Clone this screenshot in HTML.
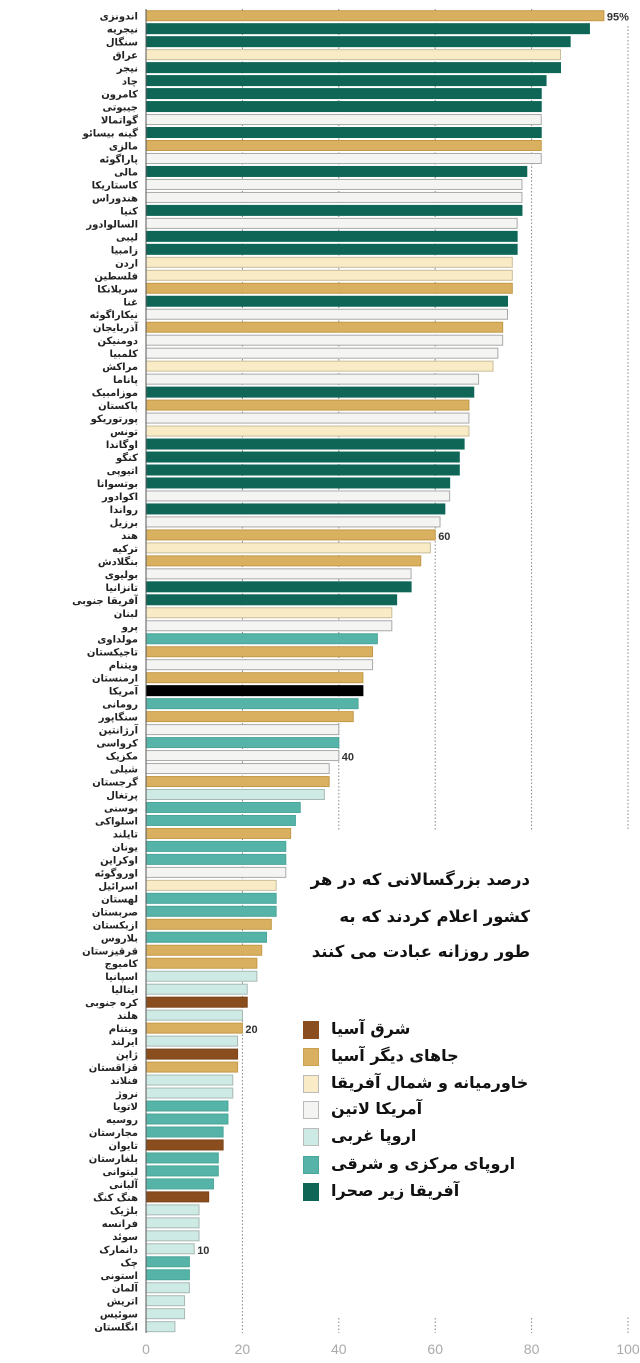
<!DOCTYPE html>
<html lang="fa">
<head>
<meta charset="utf-8">
<style>
  html, body { margin:0; padding:0; background:#fff; }
  body { width:640px; height:1363px; position:relative; overflow:hidden;
         font-family:"Liberation Sans","DejaVu Sans",sans-serif; }
  #chart { position:absolute; left:0; top:0; }
  #panel { position:absolute; left:292px; top:830px; width:348px; height:486px; background:#fff; }
  .title { position:absolute; left:290px; width:240px; font-weight:bold; font-size:16.5px; color:#111;
           direction:rtl; text-align:right; white-space:nowrap;
           font-family:"DejaVu Sans",sans-serif; line-height:24px; }
  .leg { position:absolute; left:303px; height:27px; }
  .sw { position:absolute; left:0; top:0; width:16px; height:18px; box-sizing:border-box; border:1px solid #bbb; }
  .lt { position:absolute; left:28px; top:-2px; font-weight:bold; font-size:16px; color:#111;
        direction:rtl; white-space:nowrap; font-family:"DejaVu Sans",sans-serif; }
</style>
</head>
<body>
<svg id="chart" width="640" height="1363" xmlns="http://www.w3.org/2000/svg"></svg>
<div id="panel"></div>
<div class="title" style="top:868px;">درصد بزرگسالانی که در هر</div>
<div class="title" style="top:905px;">کشور اعلام کردند که به</div>
<div class="title" style="top:940px;">طور روزانه عبادت می کنند</div>

<div class="leg" style="top:1021px;"><div class="sw" style="background:#8a4e1e;border-color:#8a4e1e"></div><div class="lt">شرق آسیا</div></div>
<div class="leg" style="top:1048px;"><div class="sw" style="background:#d8b060;border-color:#c9a150"></div><div class="lt">جاهای دیگر آسیا</div></div>
<div class="leg" style="top:1075px;"><div class="sw" style="background:#f8ebc6"></div><div class="lt">خاورمیانه و شمال آفریقا</div></div>
<div class="leg" style="top:1101px;"><div class="sw" style="background:#f4f5f3"></div><div class="lt">آمریکا لاتین</div></div>
<div class="leg" style="top:1128px;"><div class="sw" style="background:#cdeae4"></div><div class="lt">اروپا غربی</div></div>
<div class="leg" style="top:1156px;"><div class="sw" style="background:#56b3a7;border-color:#4aa69a"></div><div class="lt">اروپای مرکزی و شرقی</div></div>
<div class="leg" style="top:1183px;"><div class="sw" style="background:#0f6657;border-color:#0f6657"></div><div class="lt">آفریقا زیر صحرا</div></div>

<script>
const countries = ["اندونزی","نیجریه","سنگال","عراق","نیجر","چاد","کامرون","جیبوتی","گواتمالا","گینه بیسائو","مالزی","پاراگوئه","مالی","کاستاریکا","هندوراس","کنیا","السالوادور","لیبی","زامبیا","اردن","فلسطین","سریلانکا","غنا","نیکاراگوئه","آذربایجان","دومنیکن","کلمبیا","مراکش","پاناما","موزامبیک","پاکستان","پورتوریکو","تونس","اوگاندا","کنگو","اتیوپی","بوتسوانا","اکوادور","رواندا","برزیل","هند","ترکیه","بنگلادش","بولیوی","تانزانیا","آفریقا جنوبی","لبنان","پرو","مولداوی","تاجیکستان","ویتنام","ارمنستان","آمریکا","رومانی","سنگاپور","آرژانتین","کرواسی","مکزیک","شیلی","گرجستان","پرتغال","بوسنی","اسلواکی","تایلند","یونان","اوکراین","اوروگوئه","اسرائیل","لهستان","صربستان","ازبکستان","بلاروس","قرقیزستان","کامبوج","اسپانیا","ایتالیا","کره جنوبی","هلند","ویتنام","ایرلند","ژاپن","قزاقستان","فنلاند","نروژ","لاتویا","روسیه","مجارستان","تایوان","بلغارستان","لیتوانی","آلبانی","هنگ کنگ","بلژیک","فرانسه","سوئد","دانمارک","چک","استونی","آلمان","اتریش","سوئیس","انگلستان"];
const values = [95,92,88,86,86,83,82,82,82,82,82,82,79,78,78,78,77,77,77,76,76,76,75,75,74,74,73,72,69,68,67,67,67,66,65,65,63,63,62,61,60,59,57,55,55,52,51,51,48,47,47,45,45,44,43,40,40,40,38,38,37,32,31,30,29,29,29,27,27,27,26,25,24,23,23,21,21,20,20,19,19,19,18,18,17,17,16,16,15,15,14,13,11,11,11,10,9,9,9,8,8,6];
const regions = ["A","S","S","M","S","S","S","S","L","S","A","L","S","L","L","S","L","S","S","M","M","A","S","L","A","L","L","M","L","S","A","L","M","S","S","S","S","L","S","L","A","M","A","L","S","S","M","L","C","A","L","A","U","C","A","L","C","L","L","A","W","C","C","A","C","C","L","M","C","C","A","C","A","A","W","W","E","W","A","W","E","A","W","W","C","C","C","E","C","C","C","E","W","W","W","W","C","C","W","W","W","W"];
const valueLabels = {0:"95%",40:"60",57:"40",63:"30",78:"20",95:"10"};
const ticks = [0,20,40,60,80,100];

const fills = {E:"#8a4e1e",A:"#d8b060",M:"#f8ebc6",L:"#f4f5f3",W:"#cdeae4",C:"#56b3a7",S:"#0f6657",U:"#000000"};
const strokes = {E:"#7a4318",A:"#c49a48",M:"#c9bd9a",L:"#a9a9a9",W:"#a8b8b4",C:"#4aa69a",S:"#0f6657",U:"#000000"};

const NS = "http://www.w3.org/2000/svg";
const svg = document.getElementById('chart');
const X0 = 146, SCALE = 4.82, Y0 = 15.7, STEP = 12.98, BH = 10;
const xs = v => X0 + v * SCALE;
const ys = i => Y0 + i * STEP;

function mk(tag, attrs) {
  const e = document.createElementNS(NS, tag);
  for (const k in attrs) e.setAttribute(k, attrs[k]);
  svg.appendChild(e);
  return e;
}

ticks.forEach(t => {
  if (t === 0) return;
  const x = xs(t);
  const gl = mk('line', {x1:x, x2:x, y1:(t===100?26:9), y2:1333, stroke:'#888', 'stroke-width':1, 'stroke-dasharray':'1.5,2'});
  
  
});
ticks.forEach(t => {
  const tx = mk('text', {x:xs(t), y:1354, 'text-anchor':'middle', 'font-size':14, fill:'#aaa', 'font-family':'Liberation Sans, sans-serif'});
  tx.textContent = t;
  
  
});
countries.forEach((c, i) => {
  const y = ys(i);
  const r = regions[i];
  const b = mk('rect', {x:X0, y:y - BH/2, width:Math.max(0, xs(values[i]) - X0), height:BH, fill:fills[r], stroke:strokes[r], 'stroke-width':1});
  
  
  const lb = mk('text', {x:138, y:y + 4, 'text-anchor':'end', 'font-size':10, 'font-weight':'bold', fill:'#222', 'font-family':'DejaVu Sans, sans-serif'});
  lb.textContent = c;
  
  
  if (valueLabels[i] !== undefined) {
    const vl = mk('text', {x:xs(values[i]) + 3, y:y + 5, 'font-size':11, 'font-weight':'bold', fill:'#333', 'font-family':'Liberation Sans, sans-serif'});
    vl.textContent = valueLabels[i];
    
    
  }
});
const ax = mk('line', {x1:X0, x2:X0, y1:9, y2:1333, stroke:'#555', 'stroke-width':1});


</script>
</body>
</html>
